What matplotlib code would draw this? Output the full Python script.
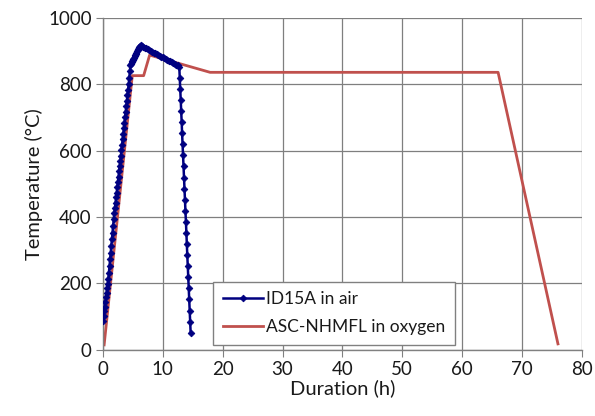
import matplotlib
matplotlib.use("Agg")
import matplotlib.pyplot as plt

plt.rcParams['font.family'] = ['Lato', 'DejaVu Sans']

# ID15A in air: duration (h) and temperature (°C)
air_time = [
    0.0, 0.1, 0.2, 0.3, 0.4, 0.5, 0.6, 0.7, 0.8, 0.9,
    1.0, 1.1, 1.2, 1.3, 1.4, 1.5, 1.6, 1.7, 1.8,
    1.9, 2.0, 2.1, 2.2, 2.3, 2.4, 2.5, 2.6, 2.7, 2.8, 2.9, 3.0, 3.1,
    3.2, 3.3, 3.4, 3.5, 3.6, 3.7, 3.8, 3.9, 4.0, 4.1, 4.2, 4.3,
    4.4, 4.5, 4.6,
    4.7, 4.8, 4.9, 5.0, 5.1, 5.2, 5.3, 5.4, 5.5, 5.6, 5.7, 5.8, 5.9, 6.0, 6.1, 6.2, 6.3,
    6.5, 6.75, 7.0, 7.25, 7.5, 7.75, 8.0, 8.25, 8.5, 8.75, 9.0, 9.25, 9.5, 9.75,
    10.0, 10.25, 10.5, 10.75, 11.0, 11.25, 11.5, 11.75, 12.0, 12.25, 12.5,
    12.75, 12.83, 12.91, 12.99, 13.07, 13.15, 13.22, 13.30, 13.38, 13.46, 13.54,
    13.62, 13.70, 13.78, 13.86, 13.94, 14.01, 14.09, 14.17, 14.25, 14.33, 14.41,
    14.49, 14.57, 14.65,
]
air_temp = [
    88, 102, 116, 130, 144, 158, 171, 185, 199, 213,
    233, 253, 273, 293, 313, 333, 353, 373, 393,
    411, 427, 443, 459, 474, 490, 506, 522, 538, 554, 569, 585, 601,
    618, 634, 651, 667, 684, 701, 717, 734, 750, 767, 784, 800,
    819, 839, 858,
    862, 866, 870, 873, 877, 880, 884, 888, 891, 895, 899, 903, 906, 910, 913, 916, 918,
    915, 913, 910, 908, 905, 903, 900, 898, 895, 893, 890, 888, 886, 883,
    881, 878, 876, 874, 871, 869, 866, 864, 861, 859, 857,
    853, 820, 786, 753, 720, 686, 653, 619, 586, 553, 519,
    486, 452, 419, 386, 352, 319, 285, 252, 219, 185, 152,
    118, 85, 51,
]

# ASC-NHMFL in oxygen
oxy_time = [0.2, 4.9, 6.8, 7.8, 17.9, 66.0, 76.0]
oxy_temp = [15, 826, 826, 888, 836, 836, 18]

x_ticks = [0, 10, 20, 30, 40, 50, 60, 70, 80]
y_ticks = [0, 200, 400, 600, 800, 1000]

fig = plt.figure(figsize=(5.95, 4.16), dpi=100)
ax = fig.add_axes([0.173, 0.159, 0.805, 0.798])

ax.plot(air_time, air_temp, color='#000080', lw=1.8, marker='D', ms=3.4,
        markeredgewidth=0.6, label='ID15A in air', zorder=3)
ax.plot(oxy_time, oxy_temp, color='#C0504D', lw=2.0, label='ASC-NHMFL in oxygen', zorder=2)

ax.set_xlim(0, 80)
ax.set_ylim(0, 1000)
ax.set_xticks(x_ticks)
ax.set_yticks(y_ticks)
ax.grid(True, color='#7f7f7f', lw=0.9)
ax.set_axisbelow(True)

for s in ['top', 'right']:
    ax.spines[s].set_visible(False)
for s in ['left', 'bottom']:
    ax.spines[s].set_color('#808080')
    ax.spines[s].set_linewidth(1.0)

ax.tick_params(axis='both', direction='out', length=5, color='#808080',
               labelsize=13.5, labelcolor='#1a1a1a', pad=3)

ax.set_xlabel('Duration (h)', fontsize=14.5, color='#1a1a1a', labelpad=1)
ax.set_ylabel('Temperature (°C)', fontsize=14.5, color='#1a1a1a', labelpad=4)

leg = ax.legend(loc='lower left', bbox_to_anchor=(0.23, 0.015), fontsize=12.5,
                frameon=True, fancybox=False, framealpha=1, edgecolor='#808080',
                handlelength=2.3, handletextpad=0.2, borderpad=0.55, labelspacing=0.7,
                borderaxespad=0.0)
leg.get_frame().set_linewidth(1.0)
for t in leg.get_texts():
    t.set_color('#1a1a1a')

fig.savefig('out.png', dpi=100)
